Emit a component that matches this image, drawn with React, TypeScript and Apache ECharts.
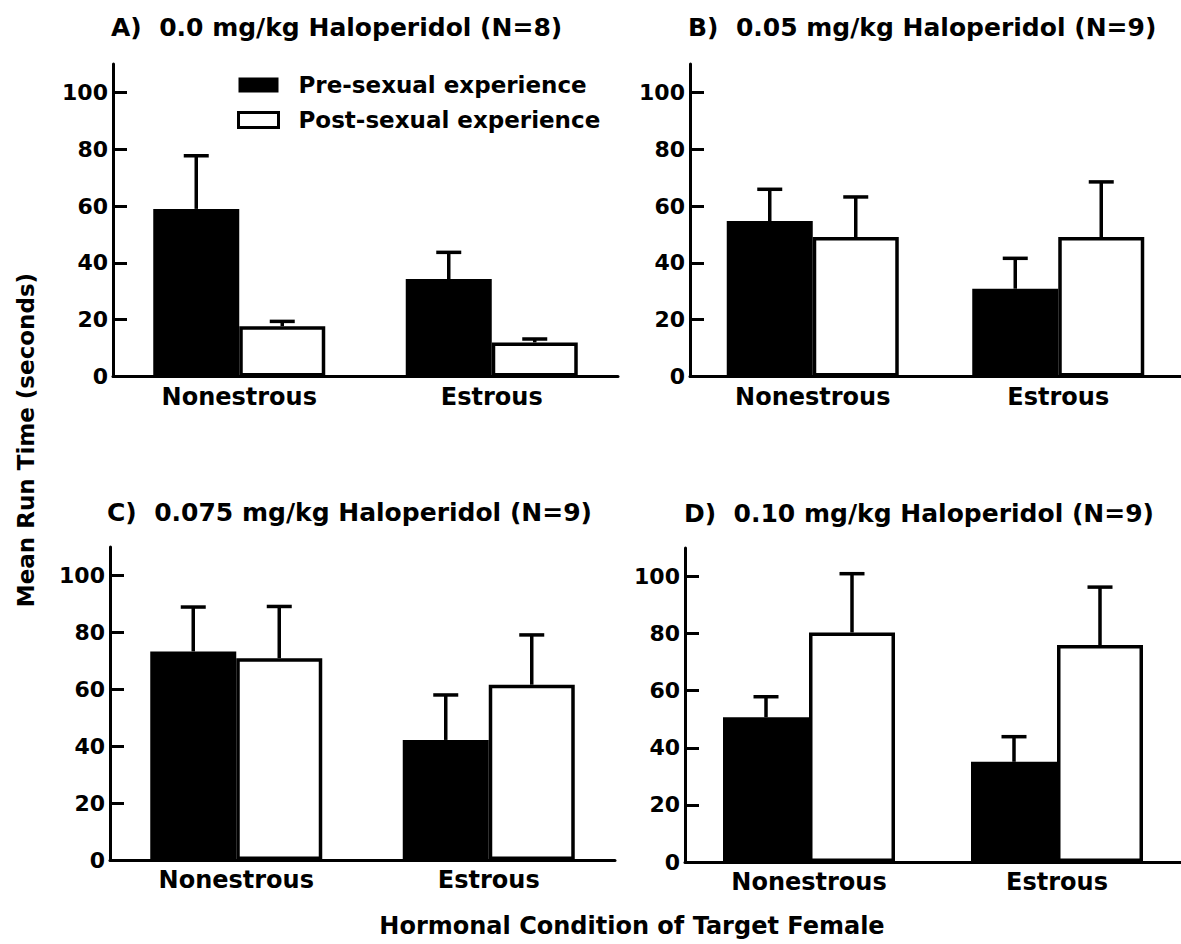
import React, { useEffect, useRef } from "react";
import * as echarts from "echarts";

const categories = ["Nonestrous", "Estrous"];
const seriesNames = ["Pre-sexual experience", "Post-sexual experience"];
const panelTitles = [
  "A)  0.0 mg/kg Haloperidol (N=8)",
  "B)  0.05 mg/kg Haloperidol (N=9)",
  "C)  0.075 mg/kg Haloperidol (N=9)",
  "D)  0.10 mg/kg Haloperidol (N=9)",
];
const yTicks = [0, 20, 40, 60, 80, 100];

// Panel A
const preMeanA = [59.0, 34.3];
const preSemA = [18.7, 9.4];
const postMeanA = [17.7, 12.0];
const postSemA = [1.7, 1.2];
// Panel B
const preMeanB = [54.7, 30.9];
const preSemB = [11.2, 10.7];
const postMeanB = [49.1, 49.1];
const postSemB = [14.1, 19.4];
// Panel C
const preMeanC = [73.3, 42.2];
const preSemC = [15.6, 15.8];
const postMeanC = [70.9, 61.6];
const postSemC = [18.2, 17.5];
// Panel D
const preMeanD = [50.7, 35.1];
const preSemD = [7.2, 8.8];
const postMeanD = [80.4, 76.0];
const postSemD = [20.6, 20.3];

const panels = [
  { pre: preMeanA, preSem: preSemA, post: postMeanA, postSem: postSemA },
  { pre: preMeanB, preSem: preSemB, post: postMeanB, postSem: postSemB },
  { pre: preMeanC, preSem: preSemC, post: postMeanC, postSem: postSemC },
  { pre: preMeanD, preSem: preSemD, post: postMeanD, postSem: postSemD },
];

const FONT = "'DejaVu Sans', sans-serif";
const BAR_W = 86;

const grids = [
  { left: 113, top: 64, width: 505, height: 312.5 },
  { left: 690, top: 64, width: 505, height: 312.5 },
  { left: 110, top: 547, width: 505, height: 313 },
  { left: 685, top: 548, width: 510, height: 314 },
];
const titlePos = [
  { left: 111, top: 13 },
  { left: 688, top: 13 },
  { left: 107, top: 498 },
  { left: 684, top: 499 },
];

function errRender(offset: number) {
  return (params: any, api: any) => {
    const cat = api.value(0);
    const mean = api.value(1);
    const sem = api.value(2);
    const b = api.coord([cat, mean]);
    const t = api.coord([cat, mean + sem]);
    const x = b[0] + offset;
    const st = { stroke: "#000", lineWidth: 3.5 };
    return {
      type: "group",
      children: [
        { type: "line", shape: { x1: x, y1: b[1], x2: x, y2: t[1] }, style: st },
        { type: "line", shape: { x1: x - 12.5, y1: t[1], x2: x + 12.5, y2: t[1] }, style: st },
      ],
    };
  };
}

export default function App() {
  const ref = useRef<HTMLDivElement>(null);
  useEffect(() => {
    if (!ref.current) return;
    const chart = echarts.init(ref.current, undefined, { renderer: "svg" });

    const xAxis: any[] = [];
    const yAxis: any[] = [];
    const series: any[] = [];
    panels.forEach((p, i) => {
      xAxis.push({
        type: "category",
        gridIndex: i,
        data: categories,
        axisLine: { show: true, lineStyle: { color: "#000", width: 3 } },
        axisTick: { show: false },
        axisLabel: {
          color: "#000",
          fontFamily: FONT,
          fontWeight: "bold",
          fontSize: 24,
          margin: 8,
        },
        splitLine: { show: false },
      });
      yAxis.push({
        type: "value",
        gridIndex: i,
        min: 0,
        max: 110,
        interval: 20,
        axisLine: { show: true, lineStyle: { color: "#000", width: 3 } },
        axisTick: {
          show: true,
          inside: true,
          length: 14,
          lineStyle: { color: "#000", width: 3 },
          customValues: yTicks,
        },
        axisLabel: {
          color: "#000",
          fontFamily: FONT,
          fontWeight: "bold",
          fontSize: 22,
          margin: 5,
          customValues: yTicks,
        },
        splitLine: { show: false },
      });
      series.push({
        name: seriesNames[0],
        type: "bar",
        xAxisIndex: i,
        yAxisIndex: i,
        data: p.pre,
        barWidth: BAR_W,
        barGap: "0%",
        itemStyle: { color: "#000" },
        z: 2,
      });
      series.push({
        name: seriesNames[1],
        type: "bar",
        xAxisIndex: i,
        yAxisIndex: i,
        data: p.post,
        barWidth: BAR_W,
        barGap: "0%",
        itemStyle: { color: "#fff", borderColor: "#000", borderWidth: 3.5 },
        z: 2,
      });
      series.push({
        name: "err-pre",
        type: "custom",
        xAxisIndex: i,
        yAxisIndex: i,
        data: p.pre.map((m, k) => [k, m, p.preSem[k]]),
        encode: { x: 0, y: 1 },
        renderItem: errRender(-BAR_W / 2),
        z: 3,
      });
      series.push({
        name: "err-post",
        type: "custom",
        xAxisIndex: i,
        yAxisIndex: i,
        data: p.post.map((m, k) => [k, m, p.postSem[k]]),
        encode: { x: 0, y: 1 },
        renderItem: errRender(BAR_W / 2),
        z: 3,
      });
    });

    const option: any = {
      animation: false,
      backgroundColor: "#fff",
      title: panelTitles.map((t, i) => ({
        text: t,
        left: titlePos[i].left,
        top: titlePos[i].top,
        padding: 0,
        textStyle: {
          color: "#000",
          fontFamily: FONT,
          fontWeight: "bold",
          fontSize: 25,
          lineHeight: 28,
        },
      })),
      legend: {
        orient: "vertical",
        left: 237,
        top: 73,
        padding: 0,
        itemWidth: 40,
        itemHeight: 15,
        itemGap: 11,
        selectedMode: false,
        data: [
          { name: seriesNames[0], icon: "rect", itemStyle: { color: "#000" } },
          {
            name: seriesNames[1],
            icon: "rect",
            itemStyle: { color: "#fff", borderColor: "#000", borderWidth: 3 },
          },
        ],
        textStyle: {
          color: "#000",
          fontFamily: FONT,
          fontWeight: "bold",
          fontSize: 23,
          lineHeight: 24,
          padding: [0, 0, 0, 15],
        },
      },
      grid: grids.map((g) => ({ ...g, containLabel: false })),
      xAxis,
      yAxis,
      series,
      graphic: [
        {
          type: "text",
          x: 26,
          y: 440,
          rotation: Math.PI / 2,
          style: {
            text: "Mean Run Time (seconds)",
            fill: "#000",
            font: `bold 23px ${FONT}`,
            textAlign: "center",
            textVerticalAlign: "middle",
          },
        },
        {
          type: "text",
          x: 632,
          y: 926,
          style: {
            text: "Hormonal Condition of Target Female",
            fill: "#000",
            font: `bold 24px ${FONT}`,
            textAlign: "center",
            textVerticalAlign: "middle",
          },
        },
      ],
    };
    chart.setOption(option);
    return () => chart.dispose();
  }, []);
  return (
    <div
      ref={ref}
      style={{ position: "absolute", left: 0, top: 0, width: 1181, height: 944 }}
    />
  );
}
